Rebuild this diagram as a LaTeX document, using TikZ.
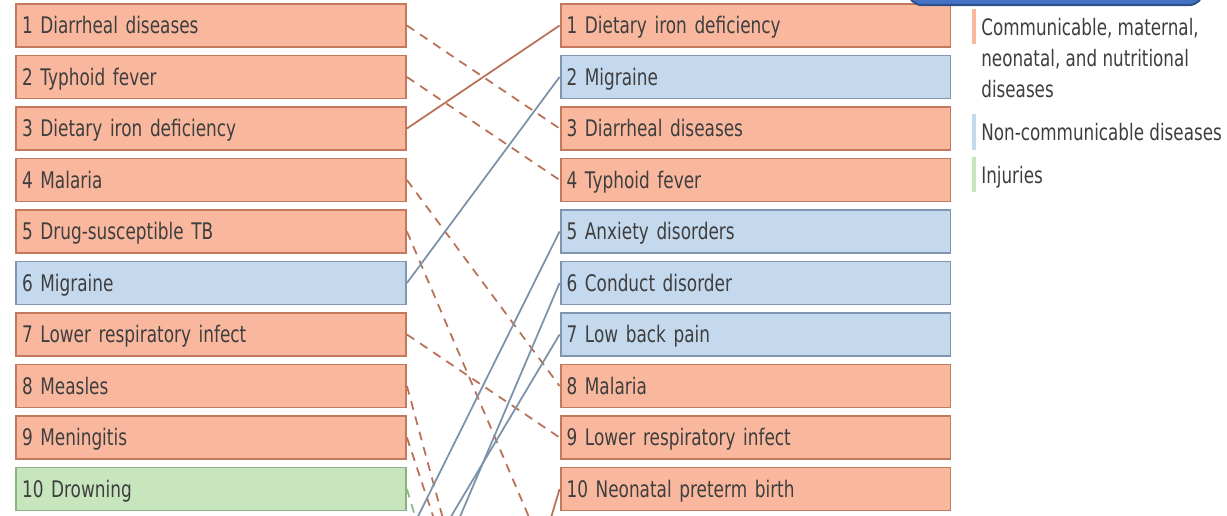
\documentclass[tikz,border=0pt]{standalone}
\usepackage{fontspec}
\setmainfont{DejaVu Sans}[FakeStretch=0.74]
\usepackage{tikz}

\definecolor{cmnfill}{RGB}{249,184,158}
\definecolor{cmndraw}{RGB}{196,120,92}
\definecolor{ncdfill}{RGB}{197,217,238}
\definecolor{ncddraw}{RGB}{128,150,176}
\definecolor{injfill}{RGB}{199,230,190}
\definecolor{injdraw}{RGB}{138,180,130}
\definecolor{cmnline}{RGB}{186,112,86}
\definecolor{ncdline}{RGB}{122,146,170}
\definecolor{injline}{RGB}{140,186,134}
\definecolor{labeltxt}{RGB}{62,62,62}
\definecolor{hdrfill}{RGB}{68,114,196}
\definecolor{hdrdraw}{RGB}{47,82,143}

\begin{document}
\begin{tikzpicture}[x=0.02cm,y=-0.02cm,
	causebox/.style={shape=rectangle, line width=1.1pt, minimum width=7.8cm, minimum height=0.86cm,
		text width=7.56cm, inner xsep=0.12cm, inner ysep=0pt, align=left,
		text height=9.6pt, text depth=0pt, text=labeltxt, font=\fontsize{13}{15}\selectfont},
	cmn/.style={causebox, fill=cmnfill, draw=cmndraw},
	ncd/.style={causebox, fill=ncdfill, draw=ncddraw},
	inj/.style={causebox, fill=injfill, draw=injdraw},
	rise/.style={-, line width=1pt},
	fall/.style={-, line width=1pt, dash pattern=on 5pt off 4pt},
	legendtxt/.style={anchor=base west, inner sep=0pt, align=left, text=labeltxt,
		font=\fontsize{12.9}{17.6}\selectfont}]
			\useasboundingbox (0,0) rectangle (1227,515);
			\clip (0,0) rectangle (1227,515);
			
			% earlier year, left column
			\node[cmn] (L1) at (211,25.5)  {1 Diarrheal diseases};
			\node[cmn] (L2) at (211,77)    {2 Typhoid fever};
			\node[cmn] (L3) at (211,128.5) {3 Dietary iron deficiency};
			\node[cmn] (L4) at (211,180)   {4 Malaria};
			\node[cmn] (L5) at (211,231.5) {5 Drug-susceptible TB};
			\node[ncd] (L6) at (211,283)   {6 Migraine};
			\node[cmn] (L7) at (211,334.5) {7 Lower respiratory infect};
			\node[cmn] (L8) at (211,386)   {8 Measles};
			\node[cmn] (L9) at (211,437.5) {9 Meningitis};
			\node[inj] (L10) at (211,489)  {10 Drowning};
			\coordinate (L11) at (406,540.5);
			\coordinate (L12) at (406,592);
			\coordinate (L13) at (406,643.5);
			\coordinate (L20) at (406,1004);
			
			% later year, right column
			\node[cmn] (R1) at (755.5,25.5)  {1 Dietary iron deficiency};
			\node[ncd] (R2) at (755.5,77)    {2 Migraine};
			\node[cmn] (R3) at (755.5,128.5) {3 Diarrheal diseases};
			\node[cmn] (R4) at (755.5,180)   {4 Typhoid fever};
			\node[ncd] (R5) at (755.5,231.5) {5 Anxiety disorders};
			\node[ncd] (R6) at (755.5,283)   {6 Conduct disorder};
			\node[ncd] (R7) at (755.5,334.5) {7 Low back pain};
			\node[cmn] (R8) at (755.5,386)   {8 Malaria};
			\node[cmn] (R9) at (755.5,437.5) {9 Lower respiratory infect};
			\node[cmn] (R10) at (755.5,489)  {10 Neonatal preterm birth};
			\coordinate (R12) at (561,592);
			\coordinate (R18) at (561,901);
			\coordinate (R19) at (561,952.5);
			\coordinate (R20) at (561,1004);
			
			\path [fall, cmnline] (L1.east) edge (R3.west);
			\path [fall, cmnline] (L2.east) edge (R4.west);
			\path [rise, cmnline] (L3.east) edge (R1.west);
			\path [fall, cmnline] (L4.east) edge (R8.west);
			\path [fall, cmnline] (L5.east) edge (R12);
			\path [rise, ncdline] (L6.east) edge (R2.west);
			\path [fall, cmnline] (L7.east) edge (R9.west);
			\path [fall, cmnline] (L8.east) edge (R19);
			\path [fall, cmnline] (L9.east) edge (R18);
			\path [fall, injline] (L10.east) edge (R20);
			\path [rise, ncdline] (L11) edge (R5.west);
			\path [rise, ncdline] (L12) edge (R7.west);
			\path [rise, ncdline] (L13) edge (R6.west);
			\path [rise, cmnline] (L20) edge (R10.west);
			
			% header tab, cut by the top edge
			\node[shape=rectangle, rounded corners=0.28cm, fill=hdrfill, draw=hdrdraw, line width=1.2pt,
				minimum width=5.9cm, minimum height=1cm] (yearbox) at (1055.5,-20) {};
			
			% legend
			\fill[cmnfill] (972,9) rectangle (976,44);
			\fill[ncdfill] (972,114) rectangle (976,150);
			\fill[injfill] (972,157) rectangle (976,192);
			\node[legendtxt] (cmnkey) at (981,97) {Communicable, maternal,\\neonatal, and nutritional\\diseases};
			\node[legendtxt] (ncdkey) at (981,140) {Non-communicable diseases};
			\node[legendtxt] (injkey) at (981,183) {Injuries};
			\end{tikzpicture}
\end{document}
